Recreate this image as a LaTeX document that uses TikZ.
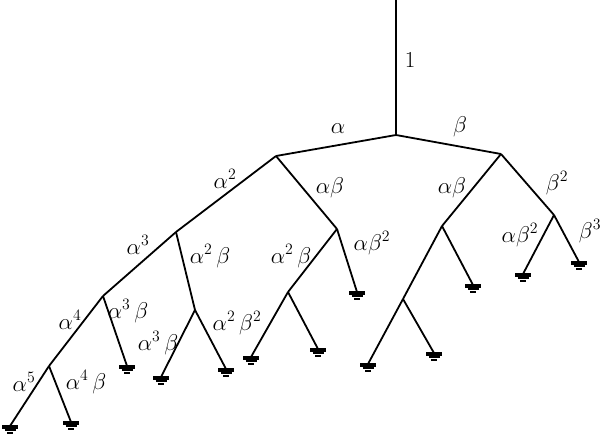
\documentclass[tikz,border=0pt]{standalone}
\usetikzlibrary{calc}
\begin{document}
\begin{tikzpicture}[x=1pt,y=-1pt,
  edge/.style={line width=1.8pt},
  lbl/.style={inner sep=0pt,font=\fontsize{20.74}{25}\selectfont,scale=1.1,transform shape},
  gnd/.pic={
    \draw[line width=3.4pt] (-8,0.8) -- (8,0.8);
    \draw[line width=1.8pt] (-5.5,4.2) -- (5.5,4.2);
    \draw[line width=1.4pt] (-2.8,6.8) -- (2.8,6.8);
  }]
\useasboundingbox (0,0) rectangle (601,433);
% internal nodes
\coordinate (top) at (396,0);
\coordinate (R) at (396,135);
\coordinate (A1) at (276,156);
\coordinate (B1) at (501,154);
\coordinate (A2) at (176,232);
\coordinate (AB) at (337,229);
\coordinate (A3) at (103,296);
\coordinate (A2B) at (195,310);
\coordinate (A4) at (49,366);
\coordinate (A2Bb) at (288,292);
\coordinate (BA) at (442,226);
\coordinate (B2) at (554,215);
\coordinate (BA2) at (403,299);
% leaves
\coordinate (L1) at (10,426);
\coordinate (L2) at (71,422);
\coordinate (L3) at (127,366);
\coordinate (L4) at (161,377);
\coordinate (L5) at (226,369);
\coordinate (L6) at (251,357);
\coordinate (L7) at (318,349);
\coordinate (L8) at (357,292);
\coordinate (L9) at (368,364);
\coordinate (L10) at (434,353);
\coordinate (L11) at (473,285);
\coordinate (L12) at (523,274);
\coordinate (L13) at (579,262);
% edges
\draw[edge] (top) -- (R);
\draw[edge] (R) -- (A1);
\draw[edge] (R) -- (B1);
\draw[edge] (A1) -- (A2);
\draw[edge] (A1) -- (AB);
\draw[edge] (A2) -- (A3);
\draw[edge] (A2) -- (A2B);
\draw[edge] (A3) -- (A4);
\draw[edge] (A3) -- (L3);
\draw[edge] (A4) -- (L1);
\draw[edge] (A4) -- (L2);
\draw[edge] (A2B) -- (L4);
\draw[edge] (A2B) -- (L5);
\draw[edge] (AB) -- (A2Bb);
\draw[edge] (AB) -- (L8);
\draw[edge] (A2Bb) -- (L6);
\draw[edge] (A2Bb) -- (L7);
\draw[edge] (B1) -- (BA);
\draw[edge] (B1) -- (B2);
\draw[edge] (BA) -- (BA2);
\draw[edge] (BA) -- (L11);
\draw[edge] (BA2) -- (L9);
\draw[edge] (BA2) -- (L10);
\draw[edge] (B2) -- (L12);
\draw[edge] (B2) -- (L13);
% grounds
\foreach \l in {L1,L2,L3,L4,L5,L6,L7,L8,L9,L10,L11,L12,L13}
  \pic at (\l) {gnd};
% labels
\node[lbl] (t1) at (410,60) {$1$};
\node[lbl] (ta) at (338,129) {$\alpha$};
\node[lbl] (tb) at (460,127) {$\beta$};
\node[lbl] (ta2) at (225,179) {$\alpha^2$};
\node[lbl] (tab) at (330,188) {$\alpha\beta$};
\node[lbl] (ta3) at (138,245) {$\alpha^3$};
\node[lbl] (ta2b) at (210,256) {$\alpha^2\,\beta$};
\node[lbl] (ta2bb) at (291,256) {$\alpha^2\,\beta$};
\node[lbl] (tab2) at (372,243) {$\alpha\beta^2$};
\node[lbl] (ta4) at (70,320) {$\alpha^4$};
\node[lbl] (ta3b) at (128,311) {$\alpha^3\,\beta$};
\node[lbl] (ta3bb) at (158,343) {$\alpha^3\,\beta$};
\node[lbl] (ta2b2) at (237,323) {$\alpha^2\,\beta^2$};
\node[lbl] (ta5) at (24,382) {$\alpha^5$};
\node[lbl] (ta4b) at (86,382) {$\alpha^4\,\beta$};
\node[lbl] (tabr) at (452,188) {$\alpha\beta$};
\node[lbl] (tb2) at (557,183) {$\beta^2$};
\node[lbl] (tab2r) at (520,235) {$\alpha\beta^2$};
\node[lbl] (tb3) at (590,231) {$\beta^3$};
\end{tikzpicture}
\end{document}
